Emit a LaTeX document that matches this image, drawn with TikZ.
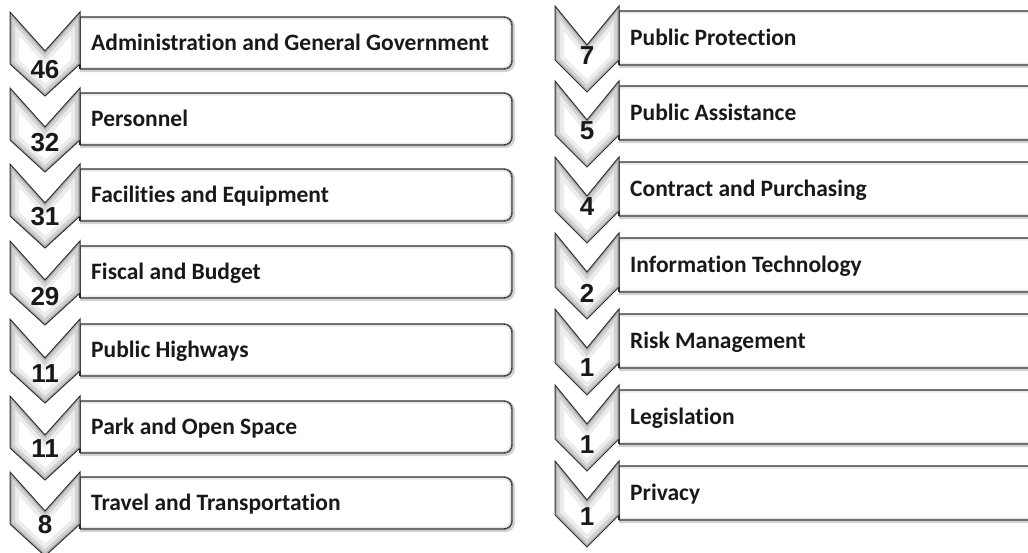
\documentclass[tikz,border=0pt]{standalone}
\usepackage{fontspec}
\setmainfont{Carlito}[Ligatures=NoCommon]
\newfontfamily\numfont{Liberation Sans}
\tikzset{
  lbl/.style={font=\fontsize{23.5}{27}\selectfont\bfseries, anchor=base west, inner sep=0pt, text=black!90},
  num/.style={font=\numfont\fontsize{26}{30}\selectfont\bfseries, anchor=center, inner sep=0pt, text=black!90},
  boxline/.style={draw=black!82, line width=1.4pt, rounded corners=8pt},
  chevline/.style={draw=black!80, line width=1pt, line join=miter},
}
% #1 chevron left x, #2 chevron right x (= box left), #3 box right x,
% #4 box top, #5 box height, #6 number centre y, #7 number, #8 text, #9 name
\newcommand\myrow[9]{%
  \pgfmathsetmacro\cL{#1}\pgfmathsetmacro\cR{#2}\pgfmathsetmacro\cM{(#1+#2)/2}%
  \pgfmathsetmacro\bR{#3}%
  \pgfmathsetmacro\tT{#4}\pgfmathsetmacro\tB{#4+#5}\pgfmathsetmacro\tM{#4+#5/2+7.5}%
  \pgfmathsetmacro\cTop{#4-5}\pgfmathsetmacro\cNotch{#4-5+39}%
  \pgfmathsetmacro\cSide{#4+#5-5}\pgfmathsetmacro\cPt{#4+#5+27}%
  \pgfmathsetmacro\bLx{#2-20}\pgfmathsetmacro\sT{#4-6}\pgfmathsetmacro\sB{#4+#5+10}%
  \pgfmathsetmacro\bRs{#3+1.5}\pgfmathsetmacro\tTs{#4+1.5}\pgfmathsetmacro\tBs{#4+#5+1.5}%
  \pgfmathsetmacro\bRc{#3+10}%
  \pgfmathsetmacro\tX{#2+11}%
  \tikzset{chevpath/.style={insert path={(\cL,\cTop) -- (\cM,\cNotch) -- (\cR,\cTop) -- (\cR,\cSide) -- (\cM,\cPt) -- (\cL,\cSide) -- cycle}}}%
  % box
  \begin{scope}
    \clip (\cR,\sT) rectangle (\bRc,\sB);
    \draw[gray!35, line width=3pt, rounded corners=8pt] (\bLx,\tTs) rectangle (\bRs,\tBs);
    \draw[boxline, fill=white] (\bLx,\tT) rectangle (\bR,\tB);
    \clip[rounded corners=8pt] (\bLx,\tT) rectangle (\bR,\tB);
    \draw[gray!18, line width=5pt, rounded corners=8pt] (\bLx,\tT) rectangle (\bR,\tB);
    \draw[boxline] (\bLx,\tT) rectangle (\bR,\tB);
  \end{scope}
  \draw[black!85, line width=2.6pt] (\cR,\tT) -- (\cR,\tB);
  % chevron
  \begin{scope}
    \clip[chevpath];
    \fill[white][chevpath];
    \draw[gray!15, line width=18pt][chevpath];
    \draw[gray!35, line width=10pt][chevpath];
    \draw[gray!60, line width=4pt][chevpath];
  \end{scope}
  \draw[chevline][chevpath];
  \node[num] (n#9) at (\cM,#6) {#7};
  \node[lbl] (t#9) at (\tX,\tM) {#8};
}
\newcommand\leftrow[5]{\myrow{10}{80}{512}{#1}{52}{#2}{#3}{#4}{#5}}
\newcommand\rightrow[5]{\myrow{555}{619}{1045}{#1}{54}{#2}{#3}{#4}{#5}}
\begin{document}
\begin{tikzpicture}[x=1pt, y=-1pt]
  \useasboundingbox (0,0) rectangle (1028,552);
  \clip (0,0) rectangle (1028,552);
  \fill[white] (0,0) rectangle (1028,552);
  \leftrow{17}{70}{46}{Administration and General Government}{L1}
  \leftrow{93}{143}{32}{Personnel}{L2}
  \leftrow{169}{217}{31}{Facilities and Equipment}{L3}
  \leftrow{246}{297}{29}{Fiscal and Budget}{L4}
  \leftrow{324}{374}{11}{Public Highways}{L5}
  \leftrow{401}{449}{11}{Park and Open Space}{L6}
  \leftrow{477}{525}{8}{Travel and Transportation}{L7}
  \rightrow{11}{56}{7}{Public Protection}{R1}
  \rightrow{86}{131}{5}{Public Assistance}{R2}
  \rightrow{162}{207}{4}{Contract and Purchasing}{R3}
  \rightrow{238}{293}{2}{Information Technology}{R4}
  \rightrow{314}{368}{1}{Risk Management}{R5}
  \rightrow{390}{445}{1}{Legislation}{R6}
  \rightrow{466}{517}{1}{Privacy}{R7}
\end{tikzpicture}
\end{document}
